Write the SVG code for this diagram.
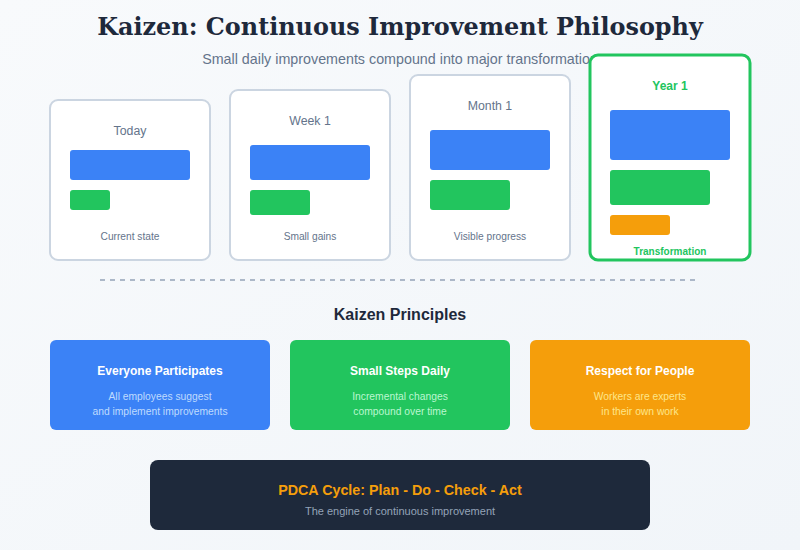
<svg xmlns="http://www.w3.org/2000/svg" width="800" height="550" viewBox="0 0 800 550">
<defs>
<linearGradient id="bg" x1="0" y1="0" x2="1" y2="1">
<stop offset="0" stop-color="#f8fafc"/>
<stop offset="1" stop-color="#f1f5f9"/>
</linearGradient>
</defs>
<style>
.sans{font-family:"Liberation Sans",Arial,sans-serif}
.card{fill:#ffffff;stroke:#cbd5e1;stroke-width:2}
.lbl{font-size:12.3px;fill:#64748b;text-anchor:middle}
.cap{font-size:10.2px;fill:#64748b;text-anchor:middle}
.blue{fill:#3b82f6}
.green{fill:#22c55e}
.orange{fill:#f59e0b}
.ptitle{font-size:12px;font-weight:bold;fill:#ffffff;text-anchor:middle}
.psub{font-size:10.3px;text-anchor:middle}
</style>
<rect width="800" height="550" fill="url(#bg)"/>
<text x="400" y="35" text-anchor="middle" font-family="'DejaVu Serif',serif" font-weight="bold" font-size="23.9" fill="#1e293b">Kaizen: Continuous Improvement Philosophy</text>
<text class="sans" x="400" y="64" text-anchor="middle" font-size="14.3" fill="#64748b">Small daily improvements compound into major transformation</text>

<g id="card-today" class="sans">
<rect class="card" x="50" y="100" width="160" height="160" rx="8"/>
<text class="lbl" x="130" y="135">Today</text>
<rect class="blue" x="70" y="150" width="120" height="30" rx="3"/>
<rect class="green" x="70" y="190" width="40" height="20" rx="3"/>
<text class="cap" x="130" y="240">Current state</text>
</g>
<g id="card-week1" class="sans">
<rect class="card" x="230" y="90" width="160" height="170" rx="8"/>
<text class="lbl" x="310" y="125">Week 1</text>
<rect class="blue" x="250" y="145" width="120" height="35" rx="3"/>
<rect class="green" x="250" y="190" width="60" height="25" rx="3"/>
<text class="cap" x="310" y="240">Small gains</text>
</g>
<g id="card-month1" class="sans">
<rect class="card" x="410" y="75" width="160" height="185" rx="8"/>
<text class="lbl" x="490" y="110">Month 1</text>
<rect class="blue" x="430" y="130" width="120" height="40" rx="3"/>
<rect class="green" x="430" y="180" width="80" height="30" rx="3"/>
<text class="cap" x="490" y="240">Visible progress</text>
</g>
<g id="card-year1" class="sans">
<rect x="590" y="55" width="160" height="205" rx="8" fill="#ffffff" stroke="#22c55e" stroke-width="3"/>
<text x="670" y="90" text-anchor="middle" font-size="12" font-weight="bold" fill="#22c55e">Year 1</text>
<rect class="blue" x="610" y="110" width="120" height="50" rx="3"/>
<rect class="green" x="610" y="170" width="100" height="35" rx="3"/>
<rect class="orange" x="610" y="215" width="60" height="20" rx="3"/>
<text x="670" y="255" text-anchor="middle" font-size="10" font-weight="bold" fill="#22c55e">Transformation</text>
</g>

<g id="connectors">
<line x1="100" y1="280" x2="700" y2="280" stroke="#94a3b8" stroke-width="1.5" stroke-dasharray="5,5"/>
</g>

<text class="sans" x="400" y="320" text-anchor="middle" font-size="16" font-weight="bold" fill="#1e293b">Kaizen Principles</text>

<g id="p-everyone" class="sans">
<rect x="50" y="340" width="220" height="90" rx="6" fill="#3b82f6"/>
<text class="ptitle" x="160" y="375">Everyone Participates</text>
<text class="psub" x="160" y="400" fill="#bfdbfe">All employees suggest</text>
<text class="psub" x="160" y="415" fill="#bfdbfe">and implement improvements</text>
</g>
<g id="p-small" class="sans">
<rect x="290" y="340" width="220" height="90" rx="6" fill="#22c55e"/>
<text class="ptitle" x="400" y="375">Small Steps Daily</text>
<text class="psub" x="400" y="400" fill="#bbf7d0">Incremental changes</text>
<text class="psub" x="400" y="415" fill="#bbf7d0">compound over time</text>
</g>
<g id="p-respect" class="sans">
<rect x="530" y="340" width="220" height="90" rx="6" fill="#f59e0b"/>
<text class="ptitle" x="640" y="375">Respect for People</text>
<text class="psub" x="640" y="400" fill="#fde68a">Workers are experts</text>
<text class="psub" x="640" y="415" fill="#fde68a">in their own work</text>
</g>

<g id="pdca" class="sans">
<rect x="150" y="460" width="500" height="70" rx="8" fill="#1e293b"/>
<text x="400" y="495" text-anchor="middle" font-size="14.3" font-weight="bold" fill="#f59e0b">PDCA Cycle: Plan - Do - Check - Act</text>
<text x="400" y="515" text-anchor="middle" font-size="11" fill="#94a3b8">The engine of continuous improvement</text>
</g>
</svg>
